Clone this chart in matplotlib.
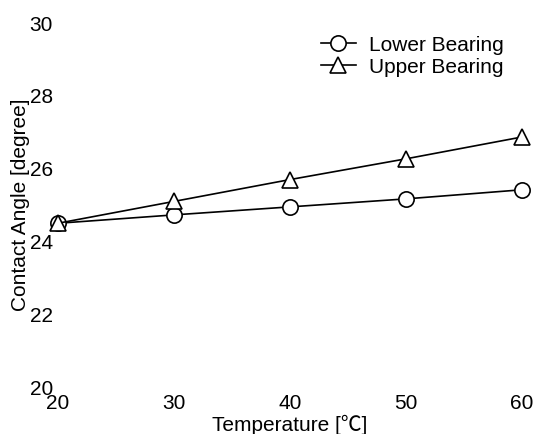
import matplotlib
matplotlib.use("Agg")
import matplotlib.pyplot as plt

plt.rcParams['font.family'] = ['Liberation Sans', 'Noto Sans CJK JP', 'DejaVu Sans']

# data
temperature = [20, 30, 40, 50, 60]
lower_bearing = [24.5, 24.73, 24.95, 25.17, 25.42]
upper_bearing = [24.5, 25.1, 25.7, 26.27, 26.87]
x_ticks = [20, 30, 40, 50, 60]
y_ticks = [20, 22, 24, 26, 28, 30]

fig = plt.figure(figsize=(5.36, 4.34), dpi=100)
ax = fig.add_axes([0.108, 0.108, 0.866, 0.839])

ax.plot(temperature, lower_bearing, color='black', lw=1.2, marker='o', ms=11,
        mfc='white', mec='black', mew=1.2, label='Lower Bearing', clip_on=False)
ax.plot(temperature, upper_bearing, color='black', lw=1.2, marker='^', ms=11,
        mfc='white', mec='black', mew=1.2, label='Upper Bearing', clip_on=False)

ax.set_xlim(20, 60)
ax.set_ylim(20, 30)
ax.set_xticks(x_ticks)
ax.set_yticks(y_ticks)
ax.tick_params(length=0, labelsize=15)
ax.tick_params(axis='x', pad=5)
ax.tick_params(axis='y', pad=3.5)
for s in ax.spines.values():
    s.set_visible(False)

ax.set_xlabel('Temperature [℃]', fontsize=15, labelpad=1)
ax.set_ylabel('Contact Angle [degree]', fontsize=15, labelpad=0)

ax.legend(loc='upper right', bbox_to_anchor=(1.0, 1.017), frameon=False,
          fontsize=15, handlelength=1.7, handletextpad=0.6, labelspacing=0.15)

fig.savefig('out.png', dpi=100)
